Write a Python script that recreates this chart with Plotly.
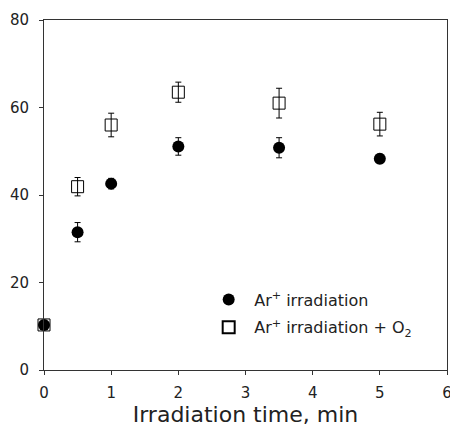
import plotly.graph_objects as go

time_min = [0, 0.5, 1, 2, 3.5, 5]
ar_values = [10.3, 31.5, 42.6, 51.1, 50.8, 48.3]
ar_errors = [0.8, 2.2, 1.2, 2.0, 2.3, 1.0]
o2_values = [10.3, 41.9, 56.0, 63.5, 61.0, 56.2]
o2_errors = [0.8, 2.1, 2.7, 2.3, 3.4, 2.7]

x_ticks = [0, 1, 2, 3, 4, 5, 6]
y_ticks = [0, 20, 40, 60, 80]

wide = "DejaVu Sans, sans-serif"

fig = go.Figure()
fig.add_trace(go.Scatter(
    x=time_min, y=ar_values, mode="markers",
    name="Ar<sup>+</sup> irradiation", legendgroup="a",
    marker=dict(symbol="circle", size=12, color="black"),
    error_y=dict(type="data", array=ar_errors, color="black", thickness=1, width=3),
    cliponaxis=False,
))
fig.add_trace(go.Scatter(
    x=time_min, y=o2_values, mode="markers",
    name="Ar<sup>+</sup> irradiation + O<sub>2</sub>", legendgroup="b",
    marker=dict(symbol="square-open", size=12, color="black", line=dict(width=1)),
    error_y=dict(type="data", array=o2_errors, color="black", thickness=1, width=3),
    cliponaxis=False,
))

axis_common = dict(
    showline=True, linecolor="#333", linewidth=1, mirror=True,
    ticks="outside", ticklen=4, tickcolor="#333",
    showgrid=False, zeroline=False, automargin=False,
    ticklabeloverflow="allow",
    tickfont=dict(family=wide, size=15, color="#222"),
)

fig.update_layout(
    width=450, height=430,
    margin=dict(l=44, r=3, t=20, b=60),
    paper_bgcolor="white", plot_bgcolor="white",
    font=dict(family=wide, color="#222"),
    xaxis=dict(range=[0, 6], tickvals=x_ticks, ticklabelstandoff=5,
               title=dict(text="Irradiation time, min", font=dict(family=wide, size=22, color="#222"), standoff=4),
               **axis_common),
    yaxis=dict(range=[0, 80], tickvals=y_ticks, ticklabelstandoff=7, **axis_common),
    legend=dict(x=0.395, y=0.25, xanchor="left", yanchor="top",
                bgcolor="rgba(0,0,0,0)", font=dict(family=wide, size=16, color="#222"),
                tracegroupgap=4, itemsizing="constant", itemwidth=41),
    showlegend=True,
)

fig.write_html("out.html", config={"displayModeBar": False},
               post_script="document.body.style.margin='0px';")
